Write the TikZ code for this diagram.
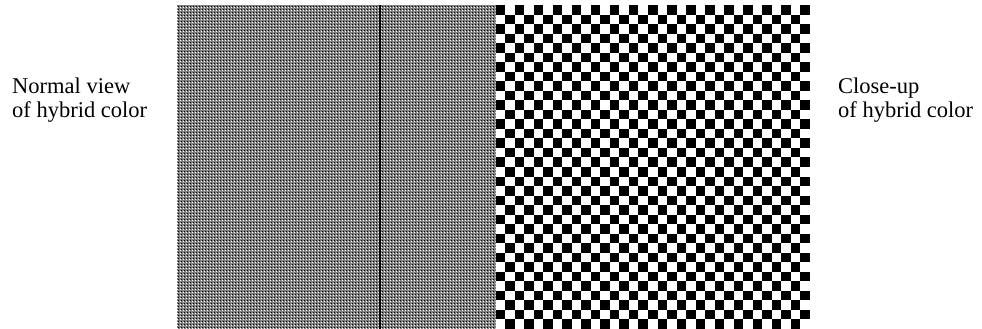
\documentclass[tikz,border=0pt]{standalone}
\usepackage{fontspec}
\setmainfont{Liberation Serif}
\usetikzlibrary{patterns}
\pgfdeclarepatternformonly{hybriddotsA}{\pgfpointorigin}{\pgfqpoint{3pt}{3pt}}{\pgfqpoint{3pt}{3pt}}{%
  \pgfpathrectangle{\pgfpointorigin}{\pgfqpoint{1pt}{1pt}}\pgfusepath{fill}}
\pgfdeclarepatternformonly{hybriddotsB}{\pgfpointorigin}{\pgfqpoint{3pt}{3pt}}{\pgfqpoint{3pt}{3pt}}{%
  \pgfpathrectangle{\pgfqpoint{1.5pt}{1.5pt}}{\pgfqpoint{1pt}{1pt}}\pgfusepath{fill}}
\begin{document}
\begin{tikzpicture}[x=1pt,y=-1pt,
  lbl/.style={anchor=base west, inner sep=0pt, font=\fontsize{22.5}{24}\selectfont},
  hybridfill/.style={fill=black!50},
  sq/.style={fill=black}]
\useasboundingbox (0,0) rectangle (982,329);
% normal view: fine hybrid gray
\fill[hybridfill] (177,5) rectangle (495.5,329);
\fill[pattern=hybriddotsA, pattern color=white] (177,5) rectangle (495.5,329);
\fill[pattern=hybriddotsB, pattern color=black] (177,5) rectangle (495.5,329);
\fill[black] (379.3,5) rectangle (381.3,329);
% close-up checkerboard
\fill[white] (495.5,5) rectangle (810,329);
\foreach \i in {0,...,32}{
  \foreach \j in {0,...,33}{
    \pgfmathtruncatemacro{\myparity}{mod(\i+\j,2)}
    \ifnum\myparity=0
      \fill[sq] ({495.5+\i*9.53},{5+\j*9.53}) rectangle ++(9.53,9.53);
    \fi
  }
}
% labels
\node[lbl] (nv1) at (12,93) {Normal view};
\node[lbl] (nv2) at (12,117) {of hybrid color};
\node[lbl] (cu1) at (838,93) {Close-up};
\node[lbl] (cu2) at (838,117) {of hybrid color};
\end{tikzpicture}
\end{document}
